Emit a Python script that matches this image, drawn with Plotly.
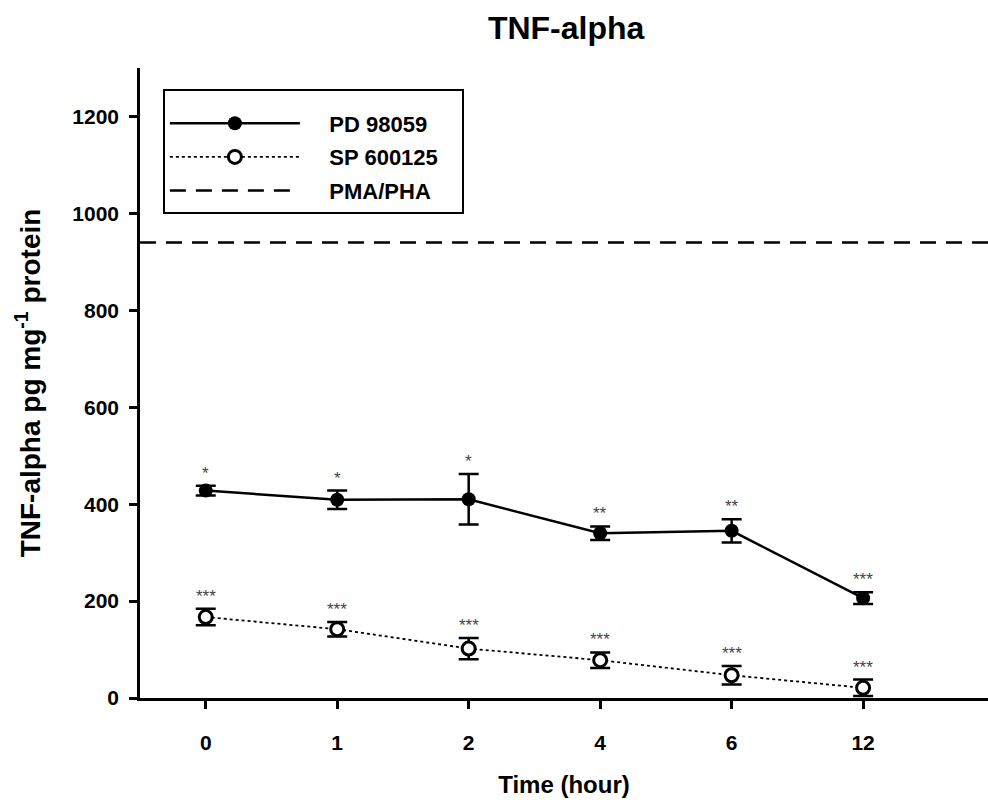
import plotly.graph_objects as go

time_labels = ["0", "1", "2", "4", "6", "12"]
pd_mean = [428, 409, 410, 340, 345, 206]
pd_err = [10, 19, 52, 14, 24, 12]
pd_sig = ["*", "*", "*", "**", "**", "***"]
sp_mean = [167, 142, 102, 78, 47, 21]
sp_err = [17, 15, 22, 16, 19, 17]
sp_sig = ["***", "***", "***", "***", "***", "***"]
pma_level = 940

xpos = list(range(len(time_labels)))
FONT = "Liberation Sans, Arial, sans-serif"
NB = "\u00a0"

def lname(s):
    return NB * 4 + "<b>" + s + "</b>" + NB * 3

fig = go.Figure()

fig.add_trace(go.Scatter(
    x=xpos, y=pd_mean, name=lname("PD 98059"), mode="lines+markers",
    line=dict(color="black", width=2.5),
    marker=dict(symbol="circle", size=14, color="black"),
    error_y=dict(type="data", array=pd_err, color="black", thickness=2.5, width=10),
    legendgroup="a",
))
fig.add_trace(go.Scatter(
    x=xpos, y=sp_mean, name=lname("SP 600125"), mode="lines+markers",
    line=dict(color="black", width=1.8, dash="dot"),
    marker=dict(symbol="circle", size=13, color="white", line=dict(color="black", width=3)),
    error_y=dict(type="data", array=sp_err, color="black", thickness=2.5, width=10),
    legendgroup="b",
))
fig.add_trace(go.Scatter(
    x=[-0.5, 6.5], y=[pma_level, pma_level], name=lname("PMA/PHA"), mode="lines",
    line=dict(color="black", width=2.5, dash="16px,10px"),
    legendgroup="c", hoverinfo="skip",
))

for xs, ms, es, ss in [(xpos, pd_mean, pd_err, pd_sig), (xpos, sp_mean, sp_err, sp_sig)]:
    for x, m, e, s in zip(xs, ms, es, ss):
        fig.add_annotation(x=x, y=m + e, text=s, showarrow=False, yanchor="bottom",
                           yshift=1, font=dict(family=FONT, size=17, color="#444"))

fig.update_layout(
    width=988, height=806,
    margin=dict(l=140, r=0, t=68, b=108),
    plot_bgcolor="white", paper_bgcolor="white",
    font=dict(family=FONT, color="black"),
    title=dict(text="<b>TNF-alpha</b>", x=0.573, xanchor="center", y=0.966, yanchor="middle",
               font=dict(size=32, family=FONT, color="black")),
    showlegend=True,
    legend=dict(x=0.027, y=0.967, xanchor="left", yanchor="top",
                bordercolor="black", borderwidth=2, bgcolor="white",
                font=dict(size=22, family=FONT, color="black"),
                title=dict(text=NB, font=dict(size=9)),
                traceorder="grouped", tracegroupgap=2, itemwidth=130),
)
fig.update_xaxes(
    range=[-0.5, 5.95], tickmode="array", tickvals=xpos, ticktext=[f"<b>{t}</b>" for t in time_labels],
    showline=True, linecolor="black", linewidth=2.5, ticks="outside", ticklen=8, tickwidth=2.5,
    tickcolor="black", showgrid=False, zeroline=False, ticklabelstandoff=16,
    tickfont=dict(size=21, family=FONT, color="black"),
    title=dict(text="<b>Time (hour)</b>", font=dict(size=24, family=FONT, color="black"), standoff=24),
)
fig.update_yaxes(
    range=[0, 1300], tickmode="array", tickvals=[0, 200, 400, 600, 800, 1000, 1200],
    ticktext=[f"<b>{v}</b>" for v in [0, 200, 400, 600, 800, 1000, 1200]],
    showline=True, linecolor="black", linewidth=2.5, ticks="outside", ticklen=8, tickwidth=2.5,
    tickcolor="black", showgrid=False, zeroline=False, ticklabelstandoff=6,
    tickfont=dict(size=21, family=FONT, color="black"),
    title=dict(text="<b>TNF-alpha pg mg<sup>-1</sup> protein</b>", font=dict(size=28, family=FONT, color="black"), standoff=24),
)

fig.write_html("out.html")
